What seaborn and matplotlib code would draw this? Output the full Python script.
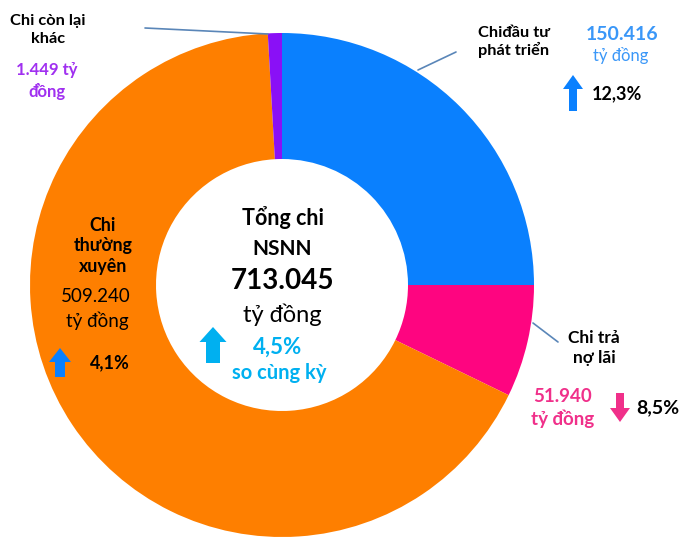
import matplotlib
matplotlib.use("Agg")
import matplotlib.pyplot as plt
from matplotlib.patches import FancyArrow
import seaborn as sns

# ---- data ----
categories = ["Chi đầu tư phát triển", "Chi trả nợ lãi", "Chi thường xuyên", "Chi còn lại khác"]
amounts = ["150.416", "51.940", "509.240", "1.449"]          # tỷ đồng (labels)
shares_drawn = [25.0, 7.2, 66.9, 0.9]                        # wedge shares as drawn in the picture (%)
changes = ["12,3%", "8,5%", "4,1%", None]
total = "713.045"
total_change = "4,5%"

colors = ["#0A80FE", "#FE0580", "#FE7F00", "#8A10F6"]

sns.set_theme(style="white")
plt.rcParams["font.family"] = ["Lato", "DejaVu Sans"]

W, H = 679, 539
fig = plt.figure(figsize=(W / 100, H / 100), dpi=100)
ax = fig.add_axes([0, 0, 1, 1])

def Y(p):
    return H - p

cx, cy, R = 282, Y(285), 252
ax.pie(shares_drawn, colors=colors, startangle=90, counterclock=False,
       center=(cx, cy), radius=R, wedgeprops=dict(width=R * 0.5, linewidth=0),
       frame=True)
ax.set_xlim(0, W)
ax.set_ylim(0, H)
ax.set_aspect("equal")
ax.axis("off")

def txt(x, y, s, size=10, color="black", weight="bold", ha="center", ls=1.25):
    ax.text(x, Y(y), s, fontsize=size, color=color, weight=weight, ha=ha,
            va="center", linespacing=ls)

def arrow(x, ytop, ybot, color, hw, bw, hl, up=True):
    L = ybot - ytop
    if up:
        a = FancyArrow(x, Y(ybot), 0, L, width=bw, head_width=hw, head_length=hl,
                       length_includes_head=True, color=color, lw=0)
    else:
        a = FancyArrow(x, Y(ytop), 0, -L, width=bw, head_width=hw, head_length=hl,
                       length_includes_head=True, color=color, lw=0)
    ax.add_patch(a)

line_col = "#5A86B8"

# Chi còn lại khác
txt(48, 30, "Chi còn lại\nkhác", size=11.8, ls=1.3)
txt(47, 81, amounts[3] + " tỷ\nđồng", size=12, color="#A030F0", ls=1.3)
ax.plot([145, 268], [Y(28), Y(34)], color=line_col, lw=1.2)

# Chi đầu tư phát triển
txt(514, 42, "Chiđầu tư\nphát triển", size=11.8, ls=1.2)
txt(622, 34, amounts[0], size=14, color="#3A97F8")
txt(621, 55, "tỷ đồng", size=12, color="#3A97F8", weight="normal")
ax.plot([456, 418], [Y(52), Y(70)], color=line_col, lw=1.2)
arrow(573, 75, 111, "#0A80FE", hw=20, bw=8, hl=14)
txt(592, 94, changes[0], size=13, ha="left")

# Chi trả nợ lãi
txt(594, 348, "Chi trả\nnợ lãi", size=12.5, ls=1.25)
ax.plot([533, 558], [Y(323), Y(342)], color=line_col, lw=1.2)
txt(563, 408, amounts[1] + "\ntỷ đồng", size=13.5, color="#F0308A", ls=1.3)
arrow(620, 393, 422, "#F0308A", hw=20, bw=8, hl=14, up=False)
txt(636, 408, changes[1], size=14, ha="left")

# Chi thường xuyên
txt(103, 246, "Chi\nthường\nxuyên", size=12.8, ls=1.25)
txt(96, 296, amounts[2], size=13.5, weight="normal")
txt(97, 321, "tỷ đồng", size=13.5, weight="normal")
arrow(60, 348, 377, "#0A80FE", hw=22, bw=10, hl=14)
txt(90, 363, changes[2], size=13, ha="left")

# Centre
txt(283, 218, "Tổng chi", size=15.5)
txt(282, 249, "NSNN", size=15)
txt(282, 281, total, size=20)
txt(282, 315, "tỷ đồng", size=17, weight="normal")
arrow(213, 327, 363, "#00B0F0", hw=27, bw=14, hl=15)
txt(278, 347, total_change, size=16, color="#00B0F0")
txt(279, 373, "so cùng kỳ", size=14.5, color="#00B0F0")

fig.savefig("out.png", dpi=100)
